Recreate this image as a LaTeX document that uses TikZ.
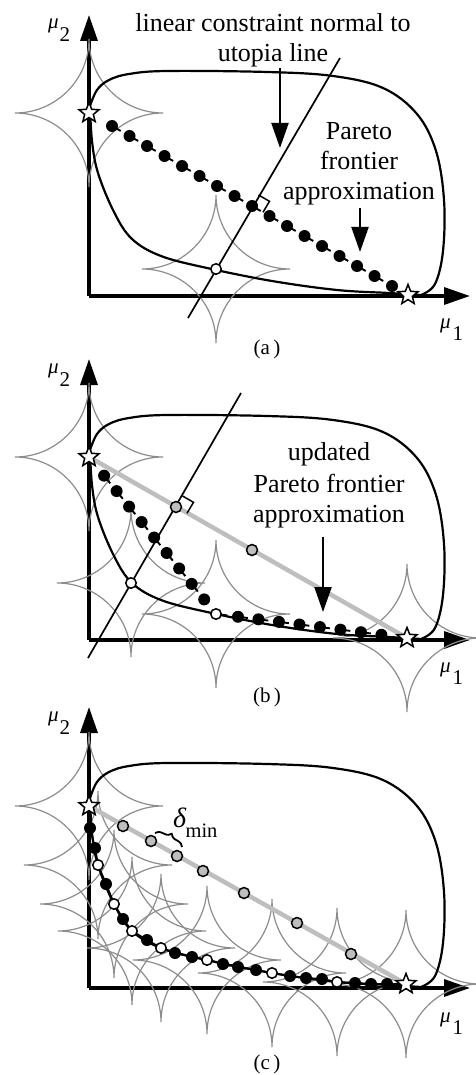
\documentclass[tikz,border=0pt]{standalone}
\usepackage{fontspec}
\setmainfont{Liberation Serif}
\usetikzlibrary{arrows.meta,shapes.geometric,calc,decorations.pathreplacing}
\definecolor{astrogray}{RGB}{140,140,140}
\definecolor{utogray}{RGB}{190,190,190}
\begin{document}
\begin{tikzpicture}[x=1pt,y=-1pt,
  axis/.style={line width=3.3pt,-{Triangle[length=26pt,width=17pt]}},
  region/.style={line width=2.2pt},
  astroline/.style={draw=astrogray,line width=1.2pt},
  utopia/.style={draw=utogray,line width=4.5pt},
  cline/.style={line width=1.7pt},
  chain/.style={line width=1.9pt},
  dashl/.style={line width=1.9pt},
  blackdot/.style={circle,fill=black,inner sep=0pt,minimum size=12pt},
  whitedot/.style={circle,draw=black,fill=white,line width=1.5pt,inner sep=0pt,minimum size=10.5pt},
  graydot/.style={circle,draw=black,fill=utogray,line width=1.5pt,inner sep=0pt,minimum size=11pt},
  utostar/.style={star,star points=5,star point ratio=2.3,draw=black,fill=white,line width=1.5pt,inner sep=0pt,minimum size=21pt},
  callout/.style={line width=2pt,-{Triangle[length=25pt,width=17pt]}},
  marker/.style={line width=1.5pt},
  lbl/.style={font=\fontsize{26}{30}\selectfont,inner sep=0pt,anchor=base},
  axlbl/.style={font=\fontsize{21}{21}\selectfont,inner sep=0pt,anchor=base west},
  capt/.style={font=\fontsize{21}{21}\selectfont,inner sep=0pt},
  bracedec/.style={line width=1.8pt,decorate,decoration={brace,amplitude=7pt}},
  astroid/.pic={\draw[astroline] (74,0) arc[start angle=270,end angle=180,radius=74]
     arc[start angle=360,end angle=270,radius=74]
     arc[start angle=90,end angle=0,radius=74]
     arc[start angle=180,end angle=90,radius=74];},
  feasible/.pic={\draw[region] plot[smooth,tension=0.6] coordinates {(1,-190) (8,-206) (20,-216) (40,-222) (78,-225) (178,-224) (244,-220) (294,-208) (328,-182) (347,-145) (355,-96) (354,-45) (346,-12) (332,-1)}
     -- plot[smooth,tension=0.6] coordinates {(332,-1) (300,-3) (248,-6) (183,-15) (118,-28) (72,-40) (43,-57) (25,-84) (9,-123) (3,-155) (1,-190)};}
]
\useasboundingbox (0,0) rectangle (475,1075);

% ================= panel (a)
\begin{scope}[shift={(89,296)}]
\coordinate (aO) at (0,0);
\coordinate (aYtip) at (0,-281);
\coordinate (aXtip) at (381,0);
\coordinate (aS1p) at (0,-183);
\coordinate (aS2p) at (319,-1);
\coordinate (aW1p) at (127,-27);
\coordinate (aCa) at (99,22);
\coordinate (aCb) at (251,-238);
\coordinate (aD0) at (23,-170);
\coordinate (aDn) at (303,-10);
\draw[axis] (aO) -- (aYtip);
\draw[axis] (aO) -- (aXtip);
\pic at (aS1p) {astroid};
\pic at (aW1p) {astroid};
\pic at (aO) {feasible};
\draw[cline] (aCa) -- (aCb);
\draw[dashl,dash pattern=on 15pt off 5.16pt,dash phase=5pt] (aD0) -- (aDn);
\foreach \k in {0,...,16} \node[blackdot] (aP\k) at ({23+17.5*\k},{-170+10*\k}) {};
\node[whitedot] (aW1) at (aW1p) {};
\node[utostar] (aS1) at (aS1p) {};
\node[utostar] (aS2) at (aS2p) {};
\draw[marker] ($(aP8.center)+(6.5,-11)$) -- ++(11,6.3) -- ++(-6.5,11);
\node[lbl] (aT1) at (184,-264) {linear constraint normal to};
\node[lbl] (aT2) at (184,-234) {utopia line};
\node[lbl] (aT3) at (270,-156) {Pareto};
\node[lbl] (aT4) at (270,-126) {frontier};
\node[lbl] (aT5) at (270,-96) {approximation};
\coordinate (aA1s) at (191,-228);
\coordinate (aA1e) at (191,-148);
\coordinate (aA2s) at (271,-88);
\coordinate (aA2e) at (271,-44);
\draw[callout] (aA1s) -- (aA1e);
\draw[callout] (aA2s) -- (aA2e);
\node[axlbl] (aMu2) at (-41,-267) {\textit{μ}\hspace{1pt}\raisebox{-13pt}{2}};
\node[axlbl] (aMu1) at (351,32) {\textit{μ}\hspace{2pt}\raisebox{-12pt}{1}};
\node[capt] (aCap) at (178,53) {(a\,)};
\end{scope}

% ================= panel (b)
\begin{scope}[shift={(89,640)}]
\coordinate (bO) at (0,0);
\coordinate (bYtip) at (0,-281);
\coordinate (bXtip) at (381,0);
\coordinate (bS1p) at (0,-183);
\coordinate (bS2p) at (318,-2);
\coordinate (bW1p) at (42,-57);
\coordinate (bW2p) at (127,-26);
\coordinate (bG1p) at (87,-133);
\coordinate (bG2p) at (163,-90);
\coordinate (bCa) at (-1,18);
\coordinate (bCb) at (152,-247);
\draw[axis] (bO) -- (bYtip);
\draw[axis] (bO) -- (bXtip);
\pic at (bS1p) {astroid};
\pic at (bW1p) {astroid};
\pic at (bW2p) {astroid};
\pic at (bS2p) {astroid};
\pic at (bO) {feasible};
\draw[utopia] (bS1p) -- (bS2p);
\draw[cline] (bCa) -- (bCb);
\coordinate (bD0) at ($(bS1p)!24/202!(bW2p)$);
\coordinate (bDn) at ($(bS1p)!183.2/202!(bW2p)$);
\coordinate (bE0) at ($(bW2p)!0.866!(bS2p)$);
\draw[dashl,dash pattern=on 14.8pt off 5.1pt,dash phase=5pt] (bD0) -- (bDn);
\draw[dashl,dash pattern=on 15pt off 5.66pt,dash phase=3.56pt] (bW2p) -- (bE0);
\foreach \k in {0,...,8} \node[blackdot] (bP\k) at ($(bS1p)!{(24+19.9*\k)/202}!(bW2p)$) {};
\foreach \k in {0,...,7} \node[blackdot] (bQ\k) at ($(bW2p)!{0.115+0.1073*\k}!(bS2p)$) {};
\node[whitedot] (bW1) at (bW1p) {};
\node[whitedot] (bW2) at (bW2p) {};
\node[graydot] (bG1) at (bG1p) {};
\node[graydot] (bG2) at (bG2p) {};
\node[utostar] (bS1) at (bS1p) {};
\node[utostar] (bS2) at (bS2p) {};
\draw[marker] ($(bG1.center)+(6.5,-11)$) -- ++(11,6.3) -- ++(-6.5,11);
\node[lbl] (bT1) at (240,-180) {updated};
\node[lbl] (bT2) at (240,-148) {Pareto frontier};
\node[lbl] (bT3) at (240,-118) {approximation};
\coordinate (bA1s) at (234,-103);
\coordinate (bA1e) at (234,-28);
\draw[callout] (bA1s) -- (bA1e);
\node[axlbl] (bMu2) at (-41,-267) {\textit{μ}\hspace{1pt}\raisebox{-13pt}{2}};
\node[axlbl] (bMu1) at (351,32) {\textit{μ}\hspace{2pt}\raisebox{-12pt}{1}};
\node[capt] (bCap) at (178,57) {(b\,)};
\end{scope}

% ================= panel (c)
\begin{scope}[shift={(89,988)}]
\coordinate (cO) at (0,0);
\coordinate (cYtip) at (0,-281);
\coordinate (cXtip) at (381,0);
\coordinate (cS1p) at (0,-182);
\coordinate (cS2p) at (317,-4);
\foreach \n/\x/\y in {1/1/-160,2/6/-140,3/9/-123,4/17/-104,5/25/-84,6/34/-69,7/43/-57,8/58/-48,9/72/-40,10/86/-35,11/103/-31,12/118/-28,13/134/-24,14/149/-21,15/167/-18,16/183/-15,17/201/-12,18/217/-10,19/233/-9,20/248/-6,21/266/-5,22/282/-4,23/298/-4}
  \coordinate (cP\n) at (\x,\y);
\draw[axis] (cO) -- (cYtip);
\draw[axis] (cO) -- (cXtip);
\pic at (cS1p) {astroid};
\foreach \n in {3,5,7,9,12,16,20} \pic at (cP\n) {astroid};
\pic at (cS2p) {astroid};
\pic at (cO) {feasible};
\draw[utopia] (cS1p) -- (cS2p);
\draw[chain] (cS1p) \foreach \n in {1,...,23} { -- (cP\n) } -- (cS2p);
\foreach \n/\s in {1/blackdot,2/blackdot,3/whitedot,4/blackdot,5/whitedot,6/blackdot,7/whitedot,8/blackdot,9/whitedot,10/blackdot,11/blackdot,12/whitedot,13/blackdot,14/blackdot,15/blackdot,16/whitedot,17/blackdot,18/blackdot,19/blackdot,20/whitedot,21/blackdot,22/blackdot,23/blackdot}
  \node[\s] (cN\n) at (cP\n) {};
\foreach \n/\x/\y in {1/34/-162,2/62/-147,3/88/-132,4/114/-117,5/155/-95,6/208/-65,7/262/-34}
  \node[graydot] (cG\n) at (\x,\y) {};
\coordinate (cBr1) at (66,-155);
\coordinate (cBr2) at (93,-141);
\draw[bracedec] (cBr1) -- (cBr2);
\node[inner sep=0pt,anchor=base west] (cDelta) at (84,-161) {\fontsize{28}{28}\selectfont\textit{δ}\hspace{-1pt}\raisebox{-10pt}{\fontsize{20.5}{20.5}\selectfont min}};
\node[utostar] (cS1) at (cS1p) {};
\node[utostar] (cS2) at (cS2p) {};
\node[axlbl] (cMu2) at (-41,-267) {\textit{μ}\hspace{1pt}\raisebox{-13pt}{2}};
\node[axlbl] (cMu1) at (351,34) {\textit{μ}\hspace{2pt}\raisebox{-12pt}{1}};
\node[capt] (cCap) at (178,76) {(c\,)};
\end{scope}
\end{tikzpicture}
\end{document}
